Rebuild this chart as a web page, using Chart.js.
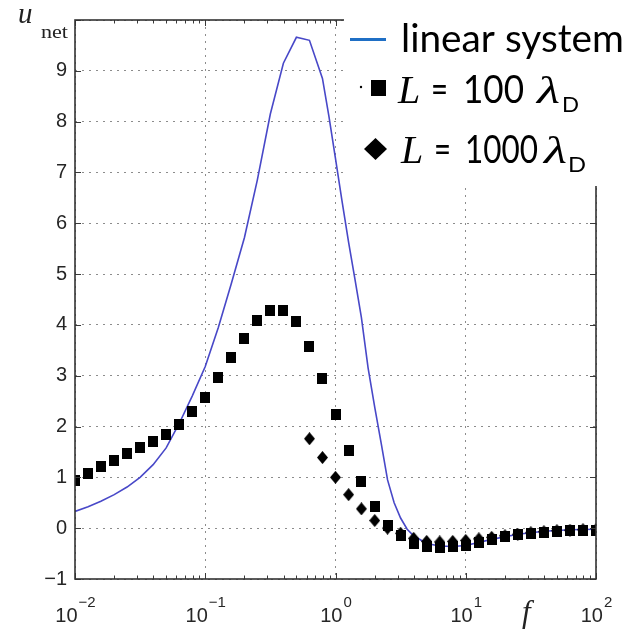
<!DOCTYPE html>
<html>
<head>
<meta charset="utf-8">
<script src="https://cdn.jsdelivr.net/npm/chart.js@4.4.1/dist/chart.umd.min.js"></script>
<style>
  html, body { margin: 0; padding: 0; background: #fff; }
</style>
</head>
<body>
<canvas id="netChart" width="630" height="631"></canvas>
<script>
// frequency f (log axis) for the simulated points, 10 per decade
const fSquare = [0.01, 0.0126, 0.0158, 0.02, 0.0251, 0.0316, 0.0398, 0.0501, 0.0631, 0.0794,
                 0.1, 0.126, 0.158, 0.2, 0.251, 0.316, 0.398, 0.501, 0.631, 0.794,
                 1, 1.26, 1.58, 2, 2.51, 3.16, 3.98, 5.01, 6.31, 7.94,
                 10, 12.6, 15.8, 20, 25.1, 31.6, 39.8, 50.1, 63.1, 79.4, 100];
// L = 100 lambda_D
const uSquare = [0.94, 1.08, 1.21, 1.34, 1.47, 1.59, 1.71, 1.85, 2.04, 2.29,
                 2.58, 2.96, 3.35, 3.74, 4.08, 4.29, 4.29, 4.06, 3.58, 2.94,
                 2.23, 1.52, 0.92, 0.42, 0.06, -0.14, -0.31, -0.37, -0.38, -0.37,
                 -0.35, -0.28, -0.23, -0.17, -0.13, -0.10, -0.08, -0.06, -0.05, -0.04, -0.04];
// L = 1000 lambda_D
const fDiamond = [0.631, 0.794, 1, 1.26, 1.58, 2, 2.51, 3.16, 3.98, 5.01, 6.31, 7.94,
                  10, 12.6, 15.8, 20, 25.1, 31.6, 39.8, 50.1, 63.1, 79.4, 100];
const uDiamond = [1.76, 1.39, 1.00, 0.66, 0.38, 0.15, 0.00, -0.10, -0.20, -0.26, -0.27, -0.26,
                  -0.24, -0.21, -0.18, -0.15, -0.12, -0.09, -0.07, -0.05, -0.04, -0.03, -0.03];
// linear system curve
const fLinear = [0.01, 0.0126, 0.0158, 0.02, 0.0251, 0.0316, 0.0398, 0.0501, 0.0631, 0.0794,
                 0.1, 0.126, 0.158, 0.2, 0.251, 0.316, 0.398, 0.501, 0.631, 0.794, 0.891,
                 1, 1.12, 1.26, 1.41, 1.58, 1.78, 2.0, 2.24, 2.51, 2.82, 3.16, 3.55, 3.98,
                 5.01, 6.31, 7.94, 10, 15.8, 25.1, 39.8, 63.1, 100];
const uLinear = [0.33, 0.42, 0.53, 0.66, 0.81, 1.00, 1.25, 1.58, 2.06, 2.60,
                 3.18, 3.95, 4.80, 5.72, 6.85, 8.15, 9.15, 9.66, 9.60, 8.85, 8.10,
                 7.27, 6.45, 5.63, 4.90, 4.15, 3.15, 2.38, 1.68, 0.95, 0.50, 0.20, -0.02, -0.15,
                 -0.30, -0.35, -0.36, -0.34, -0.22, -0.12, -0.06, -0.03, -0.02];

const xDecades = [0.01, 0.1, 1, 10, 100];
const xExponents = ['\u22122', '\u22121', '0', '1', '2'];
const yTicks = [-1, 0, 1, 2, 3, 4, 5, 6, 7, 8, 9, 10];

const SANS = '"Liberation Sans", Arial, sans-serif';
const SERIF = '"Liberation Serif", "Times New Roman", serif';
const LEG = 'Lato, "Open Sans", sans-serif';

function markerCanvas(w, h, diamond) {
    const c = document.createElement('canvas');
    c.width = w;
    c.height = h;
    const g = c.getContext('2d');
    g.fillStyle = '#000';
    if (diamond) {
        g.beginPath();
        g.moveTo(w / 2, 0);
        g.lineTo(w, h / 2);
        g.lineTo(w / 2, h);
        g.lineTo(0, h / 2);
        g.closePath();
        g.fill();
    } else {
        g.fillRect(0, 0, w, h);
    }
    return c;
}

const squareImg = markerCanvas(10, 11, false);
const diamondImg = markerCanvas(11, 13, true);

function pts(xs, ys) {
    return xs.map((x, i) => ({ x: x, y: ys[i] }));
}

// text helper, optionally squeezed/stretched to a given width
function text(ctx, str, font, x, y, width) {
    ctx.save();
    ctx.font = font;
    ctx.textBaseline = 'alphabetic';
    ctx.textAlign = 'left';
    const w = ctx.measureText(str).width;
    ctx.translate(x, y);
    if (width) ctx.scale(width / w, 1);
    ctx.fillText(str, 0, 0);
    ctx.restore();
}

const decorations = {
    id: 'decorations',
    afterDraw(chart) {
        const ctx = chart.ctx;
        const xs = chart.scales.x;
        const ys = chart.scales.y;
        const a = chart.chartArea;

        ctx.save();
        ctx.strokeStyle = '#3a3a3a';
        ctx.lineWidth = 1;

        // inner tick marks
        ctx.beginPath();
        xDecades.forEach((d, i) => {
            const px = Math.round(xs.getPixelForValue(d)) + 0.5;
            ctx.moveTo(px, a.bottom); ctx.lineTo(px, a.bottom - 6);
            ctx.moveTo(px, a.top); ctx.lineTo(px, a.top + 6);
            if (i < xDecades.length - 1) {
                for (let m = 2; m <= 9; m++) {
                    const mx = Math.round(xs.getPixelForValue(m * d)) + 0.5;
                    ctx.moveTo(mx, a.bottom); ctx.lineTo(mx, a.bottom - 3.5);
                    ctx.moveTo(mx, a.top); ctx.lineTo(mx, a.top + 3.5);
                }
            }
        });
        yTicks.forEach(v => {
            const py = Math.round(ys.getPixelForValue(v)) + 0.5;
            ctx.moveTo(a.left, py); ctx.lineTo(a.left + 6, py);
            ctx.moveTo(a.right, py); ctx.lineTo(a.right - 6, py);
        });
        ctx.stroke();

        // axes box
        ctx.lineWidth = 1.6;
        ctx.strokeStyle = '#333';
        ctx.strokeRect(a.left, a.top, a.right - a.left, a.bottom - a.top);

        // x tick labels 10^n
        ctx.fillStyle = '#262626';
        xDecades.forEach((d, i) => {
            const px = xs.getPixelForValue(d);
            ctx.font = '20px ' + SANS;
            const wb = ctx.measureText('10').width;
            ctx.font = '15px ' + SANS;
            const we = ctx.measureText(xExponents[i]).width;
            const x0 = px - (wb + we) / 2;
            text(ctx, '10', '20px ' + SANS, x0, 622);
            text(ctx, xExponents[i], '15px ' + SANS, x0 + wb + 1, 607);
        });

        // axis names
        ctx.fillStyle = '#222';
        text(ctx, 'u', 'italic 29px ' + SERIF, 18, 23);
        text(ctx, 'net', '19px ' + SERIF, 41, 38, 27);
        text(ctx, 'f', 'italic 31px ' + SERIF, 522, 622);

        // legend area
        ctx.fillStyle = '#fff';
        ctx.fillRect(327, 0, 303, 14);
        ctx.fillRect(344, 0, 286, 186);

        ctx.strokeStyle = '#1f6fc5';
        ctx.lineWidth = 3;
        ctx.beginPath();
        ctx.moveTo(350, 39.5); ctx.lineTo(386, 39.5);
        ctx.stroke();

        ctx.fillStyle = '#000';
        text(ctx, 'linear system', '38px ' + LEG, 401, 52, 223);

        ctx.beginPath();
        ctx.arc(361, 87, 1.2, 0, Math.PI * 2);
        ctx.fill();
        ctx.fillRect(371, 80, 15, 16);
        text(ctx, 'L', 'italic 40px ' + SERIF, 398, 103);
        text(ctx, '=', '38px ' + LEG, 431, 103, 17);
        text(ctx, '100', '38px ' + LEG, 463, 103, 61);
        text(ctx, '\u03bb', 'italic 38px ' + SERIF, 537, 103, 23);
        text(ctx, 'D', '22px ' + LEG, 562, 112, 17);

        ctx.beginPath();
        ctx.moveTo(375.5, 138);
        ctx.lineTo(387, 149);
        ctx.lineTo(375.5, 160);
        ctx.lineTo(364, 149);
        ctx.closePath();
        ctx.fill();
        text(ctx, 'L', 'italic 40px ' + SERIF, 401, 163);
        text(ctx, '=', '38px ' + LEG, 434, 163, 17);
        text(ctx, '1000', '38px ' + LEG, 465, 163, 73);
        text(ctx, '\u03bb', 'italic 38px ' + SERIF, 544, 163, 23);
        text(ctx, 'D', '22px ' + LEG, 568, 172, 18);

        ctx.restore();
    }
};

new Chart(document.getElementById('netChart'), {
    type: 'scatter',
    data: {
        datasets: [{
            label: 'L = 100 \u03bbD',
            data: pts(fSquare, uSquare),
            pointStyle: squareImg,
            pointRadius: 5,
            showLine: false
        },
        {
            label: 'L = 1000 \u03bbD',
            data: pts(fDiamond, uDiamond),
            pointStyle: diamondImg,
            pointRadius: 5,
            showLine: false
        },
        {
            label: 'linear system',
            data: pts(fLinear, uLinear),
            showLine: true,
            borderColor: '#4848c8',
            borderWidth: 1.6,
            pointRadius: 0,
            tension: 0,
            fill: false
        }]
    },
    options: {
        responsive: false,
        animation: false,
        layout: { padding: { left: 0, top: 15, right: 34, bottom: 0 } },
        plugins: {
            legend: { display: false },
            tooltip: { enabled: false }
        },
        scales: {
            x: {
                type: 'logarithmic',
                min: 0.01,
                max: 100,
                afterBuildTicks: scale => {
                    scale.ticks = xDecades.map(v => ({ value: v, major: true }));
                },
                afterFit: scale => { scale.height = 52; },
                ticks: { display: false },
                grid: { color: '#8c8c8c', lineWidth: 1, drawTicks: false },
                border: { display: false, dash: [2, 5] }
            },
            y: {
                min: -1,
                max: 10,
                afterBuildTicks: scale => {
                    scale.ticks = yTicks.map(v => ({ value: v }));
                },
                afterFit: scale => { scale.width = 75; },
                ticks: {
                    padding: 8,
                    color: '#262626',
                    font: { family: SANS, size: 20 },
                    callback: v => v === 10 ? '' : (v < 0 ? '\u2212' + Math.abs(v) : String(v))
                },
                grid: { color: '#8c8c8c', lineWidth: 1, drawTicks: false },
                border: { display: false, dash: [2, 5] }
            }
        }
    },
    plugins: [decorations]
});
</script>
</body>
</html>
